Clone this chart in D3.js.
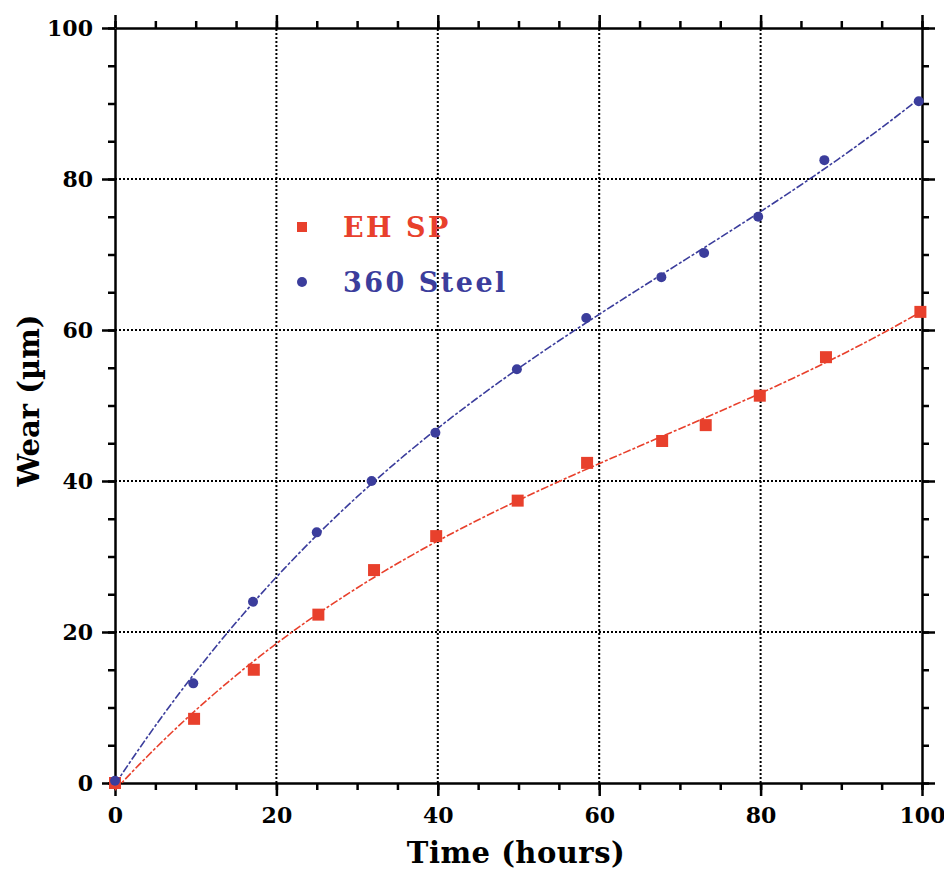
<!DOCTYPE html>
<html>
<head>
<meta charset="utf-8">
<script src="https://cdn.jsdelivr.net/npm/d3@7"></script>
<style>
  body { margin: 0; background: #fff; }
  svg text { font-family: "DejaVu Serif", "Liberation Serif", serif; font-weight: bold; }
</style>
</head>
<body>
<div id="chart"></div>
<script>
// hours
const ehTime = [0, 9.8, 17.2, 25.2, 32.1, 39.8, 49.9, 58.5, 67.8, 73.2, 79.9, 88.1, 99.8];
// wear in µm
const ehWear = [0, 8.5, 15.0, 22.3, 28.2, 32.7, 37.4, 42.4, 45.3, 47.4, 51.3, 56.4, 62.4];

const steelTime = [0, 9.7, 17.1, 25.0, 31.8, 39.7, 49.8, 58.4, 67.7, 73.0, 79.7, 87.9, 99.6];
const steelWear = [0.3, 13.2, 24.0, 33.2, 40.0, 46.4, 54.8, 61.6, 67.0, 70.2, 75.0, 82.5, 90.3];

const majorTicks = [0, 20, 40, 60, 80, 100];
const gridTicks = [20, 40, 60, 80];
const minorTicks = d3.range(0, 101, 5);

const legendItems = [
  { name: 'EH SP', color: '#e8402c', shape: 'square' },
  { name: '360 Steel', color: '#3b3d9c', shape: 'circle' }
];

const width = 944;
const height = 873;
const margin = { top: 28, right: 22, bottom: 90, left: 115 };

const svg = d3.select('#chart').append('svg')
  .attr('width', width)
  .attr('height', height);

const x = d3.scaleLinear().domain([0, 100]).range([margin.left, width - margin.right]);
const y = d3.scaleLinear().domain([0, 100]).range([height - margin.bottom, margin.top]);

// least squares polynomial fit, used for the trend lines
function polyFit (xs, ys, degree) {
  const n = degree + 1;
  const A = [];
  for (let r = 0; r < n; r++) {
    A.push(new Array(n + 1).fill(0));
  }
  xs.forEach((xv, k) => {
    for (let r = 0; r < n; r++) {
      for (let c = 0; c < n; c++) A[r][c] += Math.pow(xv, r + c);
      A[r][n] += ys[k] * Math.pow(xv, r);
    }
  });
  // gauss elimination
  for (let i = 0; i < n; i++) {
    let p = i;
    for (let r = i + 1; r < n; r++) if (Math.abs(A[r][i]) > Math.abs(A[p][i])) p = r;
    [A[i], A[p]] = [A[p], A[i]];
    for (let r = i + 1; r < n; r++) {
      const f = A[r][i] / A[i][i];
      for (let c = i; c <= n; c++) A[r][c] -= f * A[i][c];
    }
  }
  const coef = new Array(n).fill(0);
  for (let i = n - 1; i >= 0; i--) {
    let s = A[i][n];
    for (let c = i + 1; c < n; c++) s -= A[i][c] * coef[c];
    coef[i] = s / A[i][i];
  }
  return t => coef.reduce((acc, cf, i) => acc + cf * Math.pow(t, i), 0);
}

// grid
const grid = svg.append('g').attr('class', 'grid')
  .attr('stroke', '#000')
  .attr('stroke-width', 2)
  .attr('stroke-dasharray', '2,2');
grid.selectAll('line.v').data(gridTicks).enter().append('line')
  .attr('x1', d => x(d)).attr('x2', d => x(d))
  .attr('y1', y(0)).attr('y2', y(100));
grid.selectAll('line.h').data(gridTicks).enter().append('line')
  .attr('y1', d => y(d)).attr('y2', d => y(d))
  .attr('x1', x(0)).attr('x2', x(100));

// axes on all four sides, ticks pointing outward
function styleAxis (g) {
  g.select('.domain').attr('stroke-width', 2.5);
  g.selectAll('.tick line').attr('stroke-width', 2.5);
  g.selectAll('text').attr('font-size', 22).attr('fill', '#000');
}

function minorAxis (axisFn, scale, translate) {
  svg.append('g')
    .attr('transform', translate)
    .call(axisFn(scale).tickValues(minorTicks).tickSize(7).tickFormat(''))
    .call(g => { g.select('.domain').remove(); g.selectAll('.tick line').attr('stroke-width', 2.5); });
}

minorAxis(d3.axisBottom, x, `translate(0,${y(0)})`);
minorAxis(d3.axisTop, x, `translate(0,${y(100)})`);
minorAxis(d3.axisLeft, y, `translate(${x(0)},0)`);
minorAxis(d3.axisRight, y, `translate(${x(100)},0)`);

svg.append('g')
  .attr('transform', `translate(0,${y(0)})`)
  .call(d3.axisBottom(x).tickValues(majorTicks).tickSize(13).tickSizeOuter(0).tickPadding(11))
  .call(styleAxis);
svg.append('g')
  .attr('transform', `translate(0,${y(100)})`)
  .call(d3.axisTop(x).tickValues(majorTicks).tickSize(13).tickSizeOuter(0).tickFormat(''))
  .call(styleAxis);
svg.append('g')
  .attr('transform', `translate(${x(0)},0)`)
  .call(d3.axisLeft(y).tickValues(majorTicks).tickSize(13).tickSizeOuter(0).tickPadding(9))
  .call(styleAxis);
svg.append('g')
  .attr('transform', `translate(${x(100)},0)`)
  .call(d3.axisRight(y).tickValues(majorTicks).tickSize(13).tickSizeOuter(0).tickFormat(''))
  .call(styleAxis);

// axis titles
svg.append('text')
  .attr('x', 516)
  .attr('y', 863)
  .attr('text-anchor', 'middle')
  .attr('font-size', 29)
  .attr('letter-spacing', 0.5)
  .text('Time (hours)');
svg.append('text')
  .attr('transform', `translate(39,${(318 + 483) / 2}) rotate(-90)`)
  .attr('text-anchor', 'middle')
  .attr('font-size', 29)
  .text('Wear (µm)');

// series
const series = [
  { time: ehTime, wear: ehWear, color: legendItems[0].color, shape: 'square' },
  { time: steelTime, wear: steelWear, color: legendItems[1].color, shape: 'circle' }
];

const line = d3.line()
  .x(d => x(d[0]))
  .y(d => y(d[1]));

series.forEach(s => {
  const pts = s.time.map((t, i) => [t, s.wear[i]]);
  const fit = polyFit(s.time, s.wear, 3);
  const tMax = d3.max(s.time);
  const fitPts = d3.range(0, tMax + 0.01, tMax / 100).map(t => [t, fit(t)]);

  svg.append('path')
    .datum(fitPts)
    .attr('fill', 'none')
    .attr('stroke', s.color)
    .attr('stroke-width', 1.6)
    .attr('stroke-dasharray', '8,2,3,2')
    .attr('d', line);

  const g = svg.append('g').attr('fill', s.color);
  if (s.shape === 'square') {
    g.selectAll('rect').data(pts).enter().append('rect')
      .attr('x', d => x(d[0]) - 6)
      .attr('y', d => y(d[1]) - 6)
      .attr('width', 12)
      .attr('height', 12);
  } else {
    g.selectAll('circle').data(pts).enter().append('circle')
      .attr('cx', d => x(d[0]))
      .attr('cy', d => y(d[1]))
      .attr('r', 5);
  }
});

// legend
const legend = svg.append('g').attr('transform', 'translate(302,227)');
legendItems.forEach((item, i) => {
  const row = legend.append('g').attr('transform', `translate(0,${i * 55})`);
  if (item.shape === 'square') {
    row.append('rect').attr('x', -5).attr('y', -5).attr('width', 10).attr('height', 10).attr('fill', item.color);
  } else {
    row.append('circle').attr('r', 5).attr('fill', item.color);
  }
  row.append('text')
    .attr('x', 41)
    .attr('y', 10)
    .attr('font-size', 27)
    .attr('letter-spacing', 2.5)
    .attr('fill', item.color)
    .text(item.name);
});
</script>
</body>
</html>
